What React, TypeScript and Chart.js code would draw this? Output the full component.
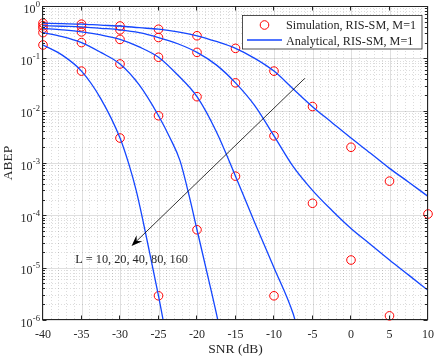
import React, { useEffect, useRef } from "react";
import { Chart, registerables } from "chart.js";

Chart.register(...registerables);

// ---------- axis / text content ----------
const xTicks = [-40, -35, -30, -25, -20, -15, -10, -5, 0, 5, 10];
const xMinorStep = 1;
const yTickExponents = [0, -1, -2, -3, -4, -5, -6];
const xTitle = "SNR (dB)";
const yTitle = "ABEP";
const legendLabels = ["Simulation, RIS-SM, M=1", "Analytical, RIS-SM, M=1"];
const annotationText = "L = 10, 20, 40, 80, 160";
const arrowFrom = { x: -6, y: 0.0415 };
const arrowTo = { x: -28.5, y: 2.6e-5 };
const annotationAt = { x: -28.5, y: 1.4e-5 };

// ---------- simulation (circles) ----------
const simSnr = [-40, -35, -30, -25, -20, -15, -10, -5, 0, 5, 10];
const simL10 = [0.18, 0.057, 0.003, 2.9e-6];
const simL20 = [0.31, 0.2, 0.078, 0.008, 5.3e-5];
const simL40 = [0.375, 0.32, 0.23, 0.105, 0.0185, 5.6e-4, 2.9e-6];
const simL80 = [0.42, 0.4, 0.35, 0.25, 0.13, 0.034, 0.0033, 1.7e-4, 1.4e-5, 1.2e-6];
const simL160 = [0.47, 0.45, 0.415, 0.36, 0.27, 0.155, 0.057, 0.012, 0.002, 4.5e-4, 1.06e-4];

// ---------- analytical (lines) ----------
const anaSnrL10 = [-40, -37.5, -35, -32.5, -30, -28.8, -27.9, -27, -26, -25, -24.4, -24];
const anaL10 = [0.18, 0.115, 0.057, 0.017, 0.003, 9e-4, 3e-4, 7.7e-5, 1.5e-5, 2.9e-6, 1e-6, 5e-7];
const anaSnrL20 = [-40, -37.5, -35, -32.5, -30, -27.5, -25, -23.5, -22.2, -21, -20, -18.5, -17.3, -17];
const anaL20 = [0.31, 0.26, 0.2, 0.13, 0.078, 0.031, 0.008, 3e-3, 1.1e-3, 2.3e-4, 5.3e-5, 6e-6, 1e-6, 6e-7];
const anaSnrL40 = [-40, -37.5, -35, -32.5, -30, -27.5, -25, -22.5, -20, -17.5, -15, -12.5, -10, -7.5, -7];
const anaL40 = [0.375, 0.35, 0.32, 0.28, 0.23, 0.165, 0.105, 0.048, 0.0185, 4e-3, 5.6e-4, 7.2e-5, 1e-5, 1.3e-6, 7e-7];
const anaSnrL80 = [-40, -37.5, -35, -32.5, -30, -27.5, -25, -22.5, -20, -17.5, -15, -12.5, -10, -7.5, -5, -2.5, 0, 2.5, 5, 7.5, 10];
const anaL80 = [0.42, 0.41, 0.4, 0.375, 0.35, 0.31, 0.25, 0.19, 0.13, 0.075, 0.034, 0.0125, 0.0033, 8.5e-4, 3.0e-4, 1.25e-4, 5.6e-5, 2.8e-5, 1.4e-5, 7.2e-6, 3.7e-6];
const anaSnrL160 = [-40, -37.5, -35, -32.5, -30, -27.5, -25, -22.5, -20, -17.5, -15, -12.5, -10, -7.5, -5, -2.5, 0, 2.5, 5, 7.5, 10];
const anaL160 = [0.47, 0.46, 0.45, 0.43, 0.415, 0.385, 0.36, 0.32, 0.27, 0.21, 0.155, 0.1, 0.057, 0.026, 0.0119, 5.97e-3, 3.0e-3, 1.55e-3, 7.9e-4, 4.3e-4, 2.3e-4];

const simSeries = [simL10, simL20, simL40, simL80, simL160];
const anaSeries: [number[], number[]][] = [
  [anaSnrL10, anaL10],
  [anaSnrL20, anaL20],
  [anaSnrL40, anaL40],
  [anaSnrL80, anaL80],
  [anaSnrL160, anaL160],
];

const AXIS = "#262626";
const BLUE = "#1446ff";
const RED = "#ff0000";
const FONT = '"Liberation Serif", "Times New Roman", serif';

const al = (v: number) => Math.round(v) + 0.5;

const matlabPlugin = {
  id: "matlabAxes",
  beforeDatasetsDraw(chart: any) {
    const { ctx, chartArea: a, scales } = chart;
    const xs = scales.x;
    const ys = scales.y;
    ctx.save();
    ctx.lineWidth = 1;
    // minor grid (dotted)
    ctx.strokeStyle = "rgba(38,38,38,0.16)";
    ctx.setLineDash([1, 2]);
    ctx.beginPath();
    const x0 = xTicks[0];
    const x1 = xTicks[xTicks.length - 1];
    for (let v = x0 + xMinorStep; v < x1; v += xMinorStep) {
      if (xTicks.includes(v)) continue;
      const p = al(xs.getPixelForValue(v));
      ctx.moveTo(p, a.top);
      ctx.lineTo(p, a.bottom);
    }
    for (const e of yTickExponents) {
      if (e === yTickExponents[0]) continue;
      for (let k = 2; k <= 9; k++) {
        const p = al(ys.getPixelForValue(k * Math.pow(10, e)));
        ctx.moveTo(a.left, p);
        ctx.lineTo(a.right, p);
      }
    }
    ctx.stroke();
    // major grid
    ctx.setLineDash([]);
    ctx.strokeStyle = "rgba(38,38,38,0.15)";
    ctx.beginPath();
    for (const v of xTicks) {
      const p = al(xs.getPixelForValue(v));
      ctx.moveTo(p, a.top);
      ctx.lineTo(p, a.bottom);
    }
    for (const e of yTickExponents) {
      const p = al(ys.getPixelForValue(Math.pow(10, e)));
      ctx.moveTo(a.left, p);
      ctx.lineTo(a.right, p);
    }
    ctx.stroke();
    ctx.restore();
  },
  afterDatasetsDraw(chart: any) {
    const { ctx, chartArea: a, scales } = chart;
    const xs = scales.x;
    const ys = scales.y;
    ctx.save();
    // box
    ctx.strokeStyle = AXIS;
    ctx.lineWidth = 1;
    const L = al(a.left) - 1, R = al(a.right) - 1, T = al(a.top), B = al(a.bottom) - 1;
    ctx.strokeRect(L, T, R - L, B - T);
    // ticks
    ctx.beginPath();
    for (const v of xTicks) {
      const p = al(xs.getPixelForValue(v)) - 1;
      ctx.moveTo(p, B);
      ctx.lineTo(p, B - 4);
      ctx.moveTo(p, T);
      ctx.lineTo(p, T + 4);
    }
    for (const e of yTickExponents) {
      const p = al(ys.getPixelForValue(Math.pow(10, e)));
      ctx.moveTo(L, p);
      ctx.lineTo(L + 4, p);
      ctx.moveTo(R, p);
      ctx.lineTo(R - 4, p);
      if (e === yTickExponents[0]) continue;
      for (let k = 2; k <= 9; k++) {
        const q = al(ys.getPixelForValue(k * Math.pow(10, e)));
        ctx.moveTo(L, q);
        ctx.lineTo(L + 2.5, q);
        ctx.moveTo(R, q);
        ctx.lineTo(R - 2.5, q);
      }
    }
    ctx.stroke();

    // x tick labels
    ctx.fillStyle = AXIS;
    ctx.font = `12px ${FONT}`;
    ctx.textAlign = "center";
    ctx.textBaseline = "alphabetic";
    for (const v of xTicks) {
      ctx.fillText(String(v), xs.getPixelForValue(v), a.bottom + 18.3);
    }
    // y tick labels 10^e
    for (const e of yTickExponents) {
      const p = ys.getPixelForValue(Math.pow(10, e));
      const expStr = String(e);
      ctx.font = `8.6px ${FONT}`;
      ctx.textAlign = "right";
      const ew = ctx.measureText(expStr).width;
      ctx.fillText(expStr, a.left - 3, p + 0.6);
      ctx.font = `12px ${FONT}`;
      ctx.fillText("10", a.left - 3 - ew - 0.3, p + 6.7);
    }
    // titles
    ctx.font = `13.5px ${FONT}`;
    ctx.textAlign = "center";
    ctx.fillText(xTitle, (a.left + a.right) / 2, a.bottom + 33);
    ctx.save();
    ctx.translate(a.left - 31, (a.top + a.bottom) / 2);
    ctx.rotate(-Math.PI / 2);
    ctx.fillText(yTitle, 0, 0);
    ctx.restore();

    // arrow annotation
    const fx = xs.getPixelForValue(arrowFrom.x), fy = ys.getPixelForValue(arrowFrom.y);
    const tx = xs.getPixelForValue(arrowTo.x), ty = ys.getPixelForValue(arrowTo.y);
    const dx = tx - fx, dy = ty - fy;
    const len = Math.hypot(dx, dy);
    const ux = dx / len, uy = dy / len;
    const nx = -uy, ny = ux;
    const hl = 11, hw = 4.2;
    ctx.strokeStyle = "#000";
    ctx.lineWidth = 0.8;
    ctx.beginPath();
    ctx.moveTo(fx, fy);
    ctx.lineTo(tx - ux * hl * 0.6, ty - uy * hl * 0.6);
    ctx.stroke();
    ctx.fillStyle = "#000";
    ctx.beginPath();
    ctx.moveTo(tx, ty);
    ctx.lineTo(tx - ux * hl + nx * hw, ty - uy * hl + ny * hw);
    ctx.lineTo(tx - ux * hl * 0.65, ty - uy * hl * 0.65);
    ctx.lineTo(tx - ux * hl - nx * hw, ty - uy * hl - ny * hw);
    ctx.closePath();
    ctx.fill();

    ctx.fillStyle = AXIS;
    ctx.font = `12.3px ${FONT}`;
    ctx.textAlign = "center";
    ctx.textBaseline = "middle";
    ctx.fillText(annotationText, xs.getPixelForValue(annotationAt.x), ys.getPixelForValue(annotationAt.y));

    // legend
    const lx = a.right - 185.5, ly = a.top + 9.5, lw = 179.5, lh = 33.5;
    ctx.fillStyle = "#fff";
    ctx.fillRect(lx, ly, lw, lh);
    ctx.strokeStyle = AXIS;
    ctx.lineWidth = 0.8;
    ctx.strokeRect(lx, ly, lw, lh);
    ctx.strokeStyle = RED;
    ctx.lineWidth = 1;
    ctx.beginPath();
    ctx.arc(lx + 22, ly + 9.5, 4.3, 0, Math.PI * 2);
    ctx.stroke();
    ctx.strokeStyle = BLUE;
    ctx.lineWidth = 1.3;
    ctx.beginPath();
    ctx.moveTo(lx + 4.5, ly + 24.5);
    ctx.lineTo(lx + 39.5, ly + 24.5);
    ctx.stroke();
    ctx.fillStyle = AXIS;
    ctx.font = `12.2px ${FONT}`;
    ctx.textAlign = "left";
    ctx.textBaseline = "alphabetic";
    ctx.fillText(legendLabels[0], lx + 43.5, ly + 13.8);
    ctx.fillText(legendLabels[1], lx + 43.5, ly + 29);
    ctx.restore();
  },
};

export default function App() {
  const ref = useRef<HTMLCanvasElement | null>(null);
  useEffect(() => {
    if (!ref.current) return;
    const lineSets = anaSeries.map(([sx, sy]) => ({
      label: "Analytical",
      data: sx.map((x, i) => ({ x, y: sy[i] })),
      showLine: true,
      borderColor: BLUE,
      borderWidth: 1.3,
      pointRadius: 0,
      cubicInterpolationMode: "monotone" as const,
      clip: 0,
      fill: false,
    }));
    const simSets = simSeries.map((vals) => ({
      label: "Simulation",
      data: vals.map((y, i) => ({ x: simSnr[i], y })),
      showLine: false,
      borderColor: RED,
      backgroundColor: "rgba(0,0,0,0)",
      borderWidth: 1,
      pointRadius: 4.3,
      pointStyle: "circle",
      clip: false,
    }));
    const chart = new Chart(ref.current, {
      type: "scatter",
      data: { datasets: [...lineSets, ...simSets] as any },
      options: {
        animation: false,
        responsive: false,
        maintainAspectRatio: false,
        devicePixelRatio: 1,
        events: [],
        layout: { padding: { left: 43, right: 8, top: 6, bottom: 38 } },
        plugins: { legend: { display: false }, tooltip: { enabled: false } },
        scales: {
          x: { type: "linear", min: xTicks[0], max: xTicks[xTicks.length - 1], display: false },
          y: { type: "logarithmic", min: Math.pow(10, yTickExponents[yTickExponents.length - 1]), max: Math.pow(10, yTickExponents[0]), display: false },
        },
      } as any,
      plugins: [matlabPlugin],
    });
    return () => chart.destroy();
  }, []);
  return (
    <div style={{ position: "fixed", left: 0, top: 0, width: 436, height: 358, background: "#fff" }}>
      <canvas ref={ref} width={436} height={358} style={{ display: "block", width: 436, height: 358 }} />
    </div>
  );
}
